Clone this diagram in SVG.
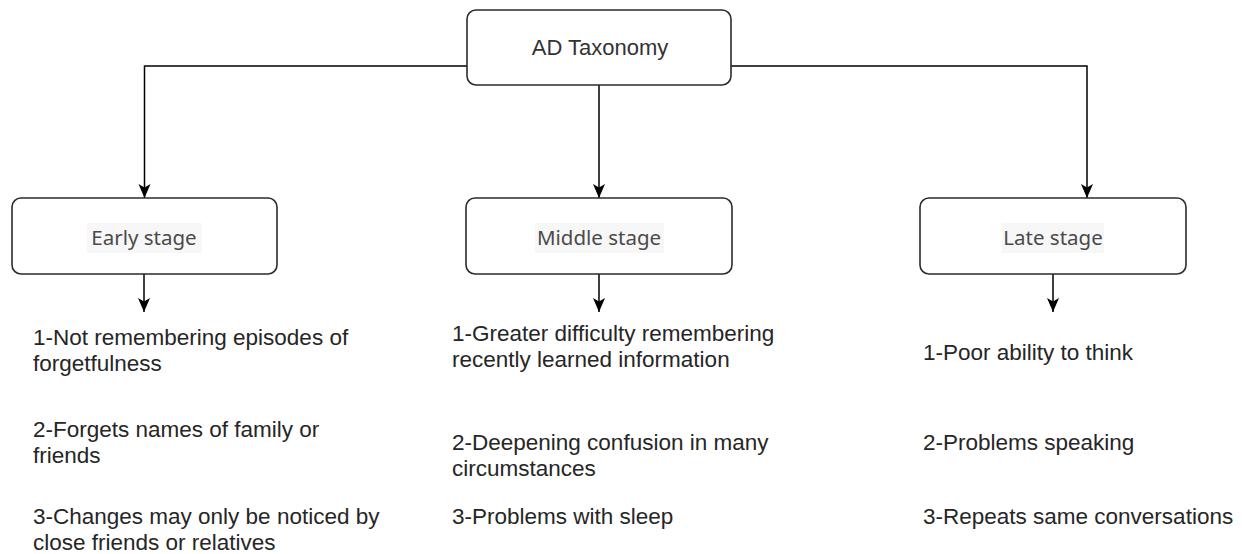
<svg xmlns="http://www.w3.org/2000/svg" width="1242" height="554" viewBox="0 0 1242 554">
<style>
.box{fill:#ffffff;stroke:#2b2b2b;stroke-width:1.6}
.edge{fill:none;stroke:#000000;stroke-width:1.5}
.title{font-family:"Liberation Sans",Arial,sans-serif;font-size:22px;fill:#333333;text-anchor:middle}
.stage{font-family:"Noto Sans","Open Sans",sans-serif;font-size:20.5px;fill:#4a4a4a;text-anchor:middle}
.hl{fill:#f7f7f7}
.item{font-family:"Liberation Sans",Arial,sans-serif;font-size:22.5px;fill:#262626}
</style>
<defs>
<marker id="arrow" markerUnits="userSpaceOnUse" markerWidth="16" markerHeight="16" viewBox="0 0 16 16" refX="14" refY="8" orient="auto">
<path d="M0,2 L14,8 L0,14 L3.5,8 Z" fill="#000000"/>
</marker>
</defs>
<g id="connectors">
<path class="edge" d="M467,66 H144.5 V198" marker-end="url(#arrow)"/>
<path class="edge" d="M599,85 V198" marker-end="url(#arrow)"/>
<path class="edge" d="M731,66 H1087 V198" marker-end="url(#arrow)"/>
<path class="edge" d="M144,274 V312" marker-end="url(#arrow)"/>
<path class="edge" d="M599,274 V312" marker-end="url(#arrow)"/>
<path class="edge" d="M1053,274 V312" marker-end="url(#arrow)"/>
</g>
<g id="root">
<rect class="box" x="467" y="10" width="264" height="75" rx="9"/>
<text class="title" x="600" y="55">AD Taxonomy</text>
</g>
<g id="early">
<rect class="box" x="12" y="198" width="265" height="76" rx="9"/>
<rect class="hl" x="87" y="223" width="115" height="30"/>
<text class="stage" x="144" y="245">Early stage </text>
</g>
<g id="middle">
<rect class="box" x="466" y="198" width="266" height="76" rx="9"/>
<rect class="hl" x="535" y="223" width="129" height="30"/>
<text class="stage" x="599" y="245">Middle stage</text>
</g>
<g id="late">
<rect class="box" x="920" y="198" width="266" height="76" rx="9"/>
<rect class="hl" x="1002" y="223" width="102" height="30"/>
<text class="stage" x="1053" y="245">Late stage</text>
</g>
<g id="early-items">
<text class="item" x="33" y="345">1-Not remembering episodes of</text>
<text class="item" x="33" y="371">forgetfulness</text>
<text class="item" x="33" y="437">2-Forgets names of family or</text>
<text class="item" x="33" y="463">friends</text>
<text class="item" x="33" y="524">3-Changes may only be noticed by</text>
<text class="item" x="33" y="550">close friends or relatives</text>
</g>
<g id="middle-items">
<text class="item" x="452" y="341">1-Greater difficulty remembering</text>
<text class="item" x="452" y="367">recently learned information</text>
<text class="item" x="452" y="450">2-Deepening confusion in many</text>
<text class="item" x="452" y="476">circumstances</text>
<text class="item" x="452" y="524">3-Problems with sleep</text>
</g>
<g id="late-items">
<text class="item" x="923" y="360">1-Poor ability to think</text>
<text class="item" x="923" y="450">2-Problems speaking</text>
<text class="item" x="923" y="524">3-Repeats same conversations</text>
</g>
</svg>
